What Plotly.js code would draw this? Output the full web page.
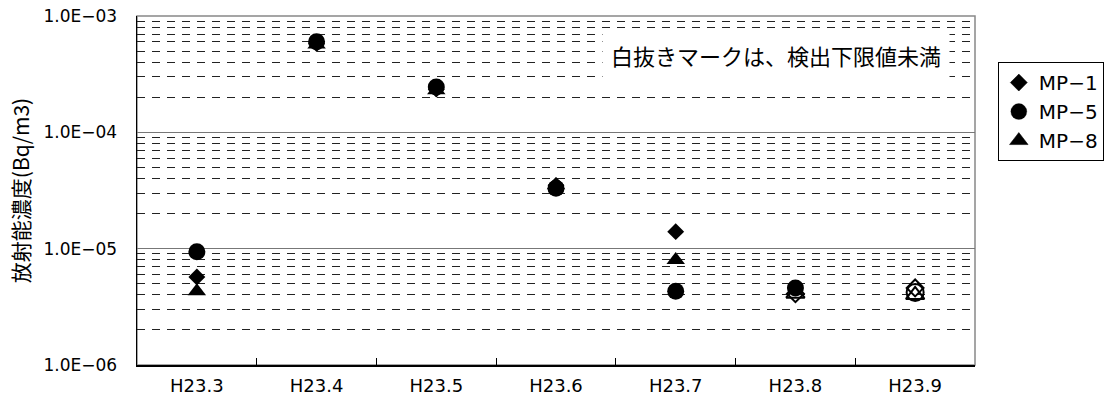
<!DOCTYPE html>
<html>
<head>
<meta charset="utf-8">
<script src="https://cdn.plot.ly/plotly-3.0.1.min.js"></script>
<style>html,body{margin:0;padding:0;background:#fff;}#chart{width:1115px;height:408px;}</style>
</head>
<body>
<div id="chart"></div>
<script>
const months = ["H23.3", "H23.4", "H23.5", "H23.6", "H23.7", "H23.8", "H23.9"];
const mp1 = [5.7e-6, 5.8e-4, 2.35e-4, 3.5e-5, 1.4e-5, 4.1e-6, 4.6e-6];
const mp5 = [9.4e-6, 6.0e-4, 2.45e-4, 3.3e-5, 4.3e-6, 4.6e-6, 4.2e-6];
const mp8 = [4.3e-6, 5.7e-4, 2.3e-4, 3.5e-5, 8.0e-6, 4.1e-6, 4.0e-6];
// true = detected (filled marker), false = below detection limit (open marker)
const mp1Detected = [true, true, true, true, true, false, false];
const mp5Detected = [true, true, true, true, true, true, false];
const mp8Detected = [true, true, true, true, true, false, false];
const yTickVals = [1e-6, 1e-5, 1e-4, 1e-3];
const yTickText = ["1.0E−06", "1.0E−05", "1.0E−04", "1.0E−03"];
const note = "白抜きマークは、検出下限値未満";

const JP = "'Noto Sans CJK JP', 'DejaVu Sans', sans-serif";
const LAT = "'DejaVu Sans', 'Noto Sans CJK JP', sans-serif";

function mk(name, vals, det, sym, size) {
  return {
    type: "scatter", mode: "markers", name: name,
    x: months, y: vals,
    marker: {
      symbol: det.map(d => d ? sym : sym + "-open"),
      size: size, color: "#000",
      line: {color: "#000", width: det.map(d => d ? 0 : 2)}
    },
    hoverinfo: "x+y"
  };
}

const data = [
  mk("MP−1", mp1, mp1Detected, "diamond", 13),
  mk("MP−5", mp5, mp5Detected, "circle", 17),
  mk("MP−8", mp8, mp8Detected, "triangle-up", 16)
];

const layout = {
  width: 1115, height: 408,
  margin: {l: 137, r: 139, t: 16, b: 43},
  paper_bgcolor: "#fff", plot_bgcolor: "#fff",
  font: {family: LAT, size: 17, color: "#000"},
  showlegend: true,
  legend: {
    x: 1.026, y: 0.868, xanchor: "left", yanchor: "top",
    bordercolor: "#000", borderwidth: 1, bgcolor: "#fff",
    font: {family: LAT, size: 20, color: "#000"},
    itemwidth: 30, tracegroupgap: 0
  },
  xaxis: {
    type: "category", range: [-0.5, 6.5],
    tickson: "boundaries", ticks: "inside", ticklen: 7, tickcolor: "#000",
    ticklabelstandoff: 4,
    showgrid: false, showline: true, linecolor: "#000", linewidth: 1.5,
    tickfont: {family: LAT, size: 18, color: "#000"},
    zeroline: false, fixedrange: true
  },
  yaxis: {
    type: "log", range: [-6, -3],
    tickvals: yTickVals, ticktext: yTickText, ticks: "",
    ticklabelstandoff: 15,
    tickfont: {family: LAT, size: 17, color: "#000"},
    showgrid: true, gridcolor: "#777", gridwidth: 1,
    minor: {dtick: "D1", showgrid: true, gridcolor: "#222", gridwidth: 1, griddash: "8px,7px", ticks: ""},
    showline: true, linecolor: "#000", linewidth: 1.5,
    title: {text: "放射能濃度(Bq/m3)", font: {family: JP, size: 21, color: "#000"}, standoff: 8},
    zeroline: false, fixedrange: true
  },
  shapes: [{
    type: "rect", xref: "paper", yref: "paper", x0: 0, x1: 1, y0: 0, y1: 1,
    line: {color: "#888", width: 1.5}, layer: "below"
  }],
  annotations: [{
    xref: "paper", yref: "paper", x: 0.762, y: 0.888,
    xanchor: "center", yanchor: "middle",
    text: note, showarrow: false, bgcolor: "#fff", borderpad: 8,
    font: {family: JP, size: 22, color: "#000"}
  }]
};

Plotly.newPlot("chart", data, layout, {displayModeBar: false, staticPlot: true});
</script>
</body>
</html>
